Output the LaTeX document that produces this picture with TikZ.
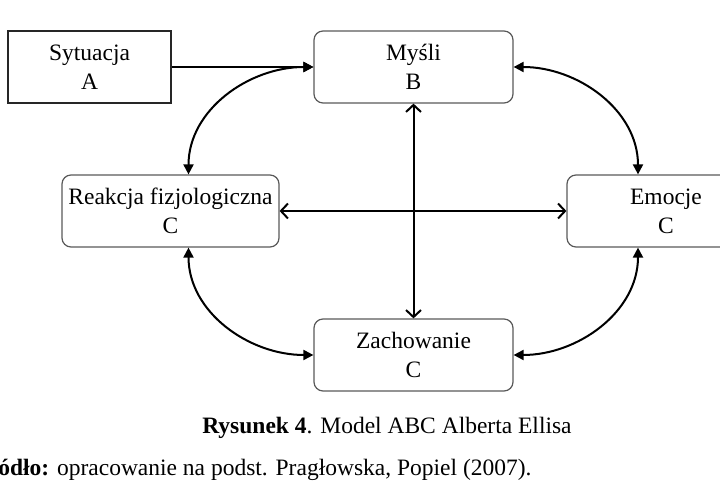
\documentclass[tikz,border=0pt]{standalone}
\usepackage{fontspec}
\setmainfont{Liberation Serif}
\usetikzlibrary{arrows.meta, positioning, calc}

\begin{document}
\begin{tikzpicture}[x=1pt,y=1pt,
				box/.style={draw=black!65,line width=1.2pt,rounded corners=9pt,align=center,minimum width=199pt,minimum height=72pt,inner sep=0pt,font=\fontsize{23.5}{29}\selectfont},
				sbox/.style={box,draw=black!85,line width=1.5pt,sharp corners,minimum width=163pt},
				txt/.style={inner sep=0pt,font=\fontsize{23.5}{29}\selectfont},
				arr/.style={-{Triangle[length=10pt,width=10pt]},line width=2pt},
				both/.style={{Triangle[length=10pt,width=10pt]}-{Triangle[length=10pt,width=10pt]},line width=2pt},
				open/.style={{Straight Barb[length=7pt,width=15pt]}-{Straight Barb[length=7pt,width=15pt]},line width=2pt}
			]
			\useasboundingbox (0,0) rectangle (720,500);
			\clip (0,0) rectangle (720,500);
			\node[sbox] (sit) at (89.5,433) {Sytuacja\\A};
			\node[box] (mysli) at (413.5,433) {Myśli\\B};
			\node[box,minimum width=217pt] (reakcja) at (170.5,289) {Reakcja fizjologiczna\\C};
			\node[box,minimum width=198pt] (emocje) at (666,289) {Emocje\\C};
			\node[box] (zach) at (413.5,145) {Zachowanie\\C};
			\draw[arr] (sit) -- (mysli);
			\draw[open] (mysli) -- (zach);
			\draw[open] (reakcja) -- (emocje);
			\draw[both] (mysli.west) to[out=180,in=90] ([xshift=18pt]reakcja.north);
			\draw[both] (mysli.east) to[out=0,in=90] ([xshift=-28pt]emocje.north);
			\draw[both] ([xshift=-28pt]emocje.south) to[out=-90,in=0] (zach.east);
			\draw[both] ([xshift=18pt]reakcja.south) to[out=-90,in=180] (zach.west);
			\node[txt] (caption) at (387,72) {\textbf{Rysunek 4}. Model ABC Alberta Ellisa};
			\node[txt,anchor=west] (source) at (-28,32) {\textbf{Źródło:} opracowanie na podst. Pragłowska, Popiel (2007).};
			\end{tikzpicture}
\end{document}
